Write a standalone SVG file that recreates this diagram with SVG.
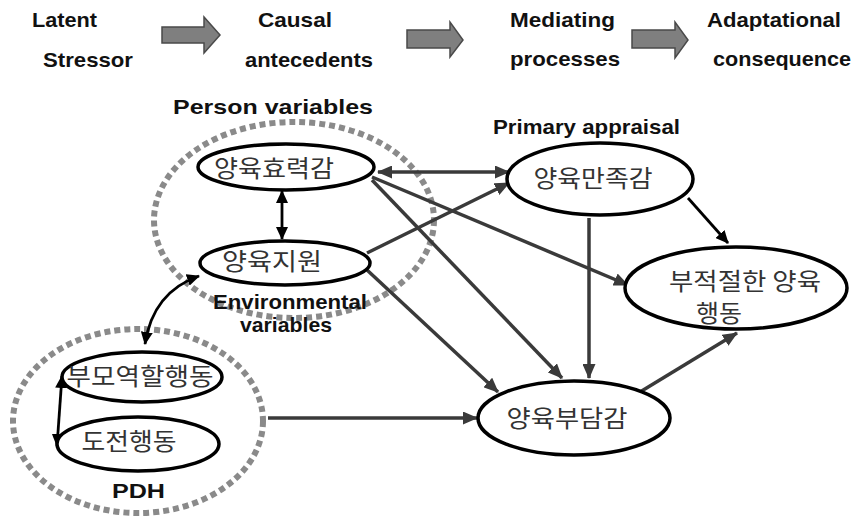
<svg xmlns="http://www.w3.org/2000/svg" width="859" height="519" viewBox="0 0 859 519">
<style>
.hd{font-family:"Liberation Sans",Arial,sans-serif;font-weight:bold;font-size:21px;fill:#111}
.kr{font-family:"Noto Sans CJK KR","Noto Sans",sans-serif;font-size:24px;fill:#333;text-anchor:middle}
.node{fill:#fff;stroke:#000;stroke-width:3.5}
.grp{fill:none;stroke:#8a8a8a;stroke-width:6;stroke-dasharray:6 4}
.blk{fill:#7f7f7f;stroke:#4a4a4a;stroke-width:1.5}
.c{fill:none;stroke:#3a3a3a;stroke-width:3.5}
.cb{fill:none;stroke:#000;stroke-width:2.8}
</style>
<defs>
<marker id="ag" markerUnits="userSpaceOnUse" markerWidth="15" markerHeight="13" refX="14" refY="6.5" orient="auto-start-reverse"><path d="M0,0 L15,6.5 L0,13 z" fill="#3a3a3a"/></marker>
<marker id="ab" markerUnits="userSpaceOnUse" markerWidth="13" markerHeight="12" refX="12" refY="6" orient="auto-start-reverse"><path d="M0,0 L13,6 L0,12 z" fill="#000"/></marker>
</defs>
<rect width="859" height="519" fill="#fff"/>
<g id="header">
<text class="hd" x="32" y="27" textLength="65" lengthAdjust="spacingAndGlyphs">Latent</text>
<text class="hd" x="43" y="67" textLength="90" lengthAdjust="spacingAndGlyphs">Stressor</text>
<text class="hd" x="258" y="27" textLength="74" lengthAdjust="spacingAndGlyphs">Causal</text>
<text class="hd" x="245" y="67" textLength="128" lengthAdjust="spacingAndGlyphs">antecedents</text>
<text class="hd" x="510" y="27" textLength="105" lengthAdjust="spacingAndGlyphs">Mediating</text>
<text class="hd" x="510" y="66" textLength="110" lengthAdjust="spacingAndGlyphs">processes</text>
<text class="hd" x="707" y="27" textLength="134" lengthAdjust="spacingAndGlyphs">Adaptational</text>
<text class="hd" x="713" y="66" textLength="138" lengthAdjust="spacingAndGlyphs">consequence</text>
<polygon class="blk" points="162,27 204,27 204,17 220,35 204,53 204,43 162,43"/>
<polygon class="blk" points="407,30 450,30 450,22 463,40 450,57 450,48 407,48"/>
<polygon class="blk" points="632,30 675,30 675,22 688,40 675,58 675,48 632,48"/>
</g>
<g id="groups">
<ellipse class="grp" cx="294" cy="220" rx="140" ry="98"/>
<ellipse class="grp" cx="138" cy="421" rx="125" ry="92"/>
<text class="hd" x="173" y="114" textLength="200" lengthAdjust="spacingAndGlyphs">Person  variables</text>
<text class="hd" x="493" y="134" font-size="19" textLength="187" lengthAdjust="spacingAndGlyphs">Primary appraisal</text>
<text class="hd" x="213" y="309" textLength="154" lengthAdjust="spacingAndGlyphs">Environmental</text>
<text class="hd" x="240" y="332" textLength="92" lengthAdjust="spacingAndGlyphs">variables</text>
<text class="hd" x="112" y="498" textLength="53" lengthAdjust="spacingAndGlyphs">PDH</text>
</g>
<g id="connectors">
<line class="c" x1="378" y1="172" x2="509" y2="172" marker-start="url(#ag)" marker-end="url(#ag)"/>
<line class="c" x1="367" y1="253" x2="509" y2="183" marker-end="url(#ag)"/>
<line class="c" x1="372" y1="177" x2="628" y2="285" stroke-width="2.8" marker-end="url(#ag)"/>
<line class="c" x1="372" y1="180" x2="562" y2="378" marker-end="url(#ag)"/>
<line class="c" x1="367" y1="270" x2="498" y2="392" marker-end="url(#ag)"/>
<line class="c" x1="589" y1="218" x2="589" y2="378" marker-end="url(#ag)"/>
<line class="c" x1="268" y1="418" x2="477" y2="418" marker-end="url(#ag)"/>
<line class="c" x1="640" y1="392" x2="737" y2="333" marker-end="url(#ag)"/>
<line class="cb" x1="688" y1="198" x2="728" y2="243" stroke-width="3.4" marker-end="url(#ab)"/>
<line class="cb" x1="282" y1="191" x2="282" y2="239" marker-start="url(#ab)" marker-end="url(#ab)"/>
<path class="cb" d="M199,276 Q153,292 145,344" marker-start="url(#ab)" marker-end="url(#ab)"/>
<line class="cb" x1="62" y1="376" x2="57" y2="446" marker-start="url(#ab)" marker-end="url(#ab)"/>
</g>
<g id="n1"><ellipse class="node" cx="286" cy="167" rx="88" ry="23"/><text class="kr" x="274" y="177" textLength="120" lengthAdjust="spacingAndGlyphs">양육효력감</text></g>
<g id="n2"><ellipse class="node" cx="285" cy="263" rx="85" ry="22"/><text class="kr" x="272" y="270" textLength="100" lengthAdjust="spacingAndGlyphs">양육지원</text></g>
<g id="n3"><ellipse class="node" cx="600" cy="179" rx="93" ry="36"/><text class="kr" x="593" y="187" textLength="119" lengthAdjust="spacingAndGlyphs">양육만족감</text></g>
<g id="n4"><ellipse class="node" cx="736" cy="288" rx="111" ry="41"/><text class="kr" x="745" y="290" font-size="22" textLength="152" lengthAdjust="spacingAndGlyphs">부적절한 양육</text><text class="kr" x="719" y="322" font-size="22" textLength="46" lengthAdjust="spacingAndGlyphs">행동</text></g>
<g id="n5"><ellipse class="node" cx="574" cy="418" rx="96" ry="37"/><text class="kr" x="567" y="427" textLength="121" lengthAdjust="spacingAndGlyphs">양육부담감</text></g>
<g id="n6"><ellipse class="node" cx="142" cy="377" rx="80" ry="25"/><text class="kr" x="140" y="385" textLength="147" lengthAdjust="spacingAndGlyphs">부모역할행동</text></g>
<g id="n7"><ellipse class="node" cx="138" cy="444" rx="81" ry="27"/><text class="kr" x="129" y="450" textLength="95" lengthAdjust="spacingAndGlyphs">도전행동</text></g>
</svg>
